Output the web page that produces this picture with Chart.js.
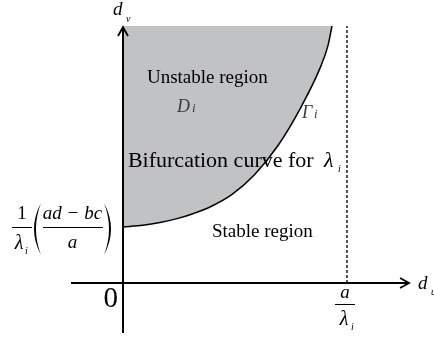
<!DOCTYPE html>
<html><head><meta charset="utf-8">
<script src="https://cdn.jsdelivr.net/npm/chart.js@4.4.1/dist/chart.umd.min.js"></script>
<style>html,body{margin:0;padding:0;background:#fff}#wrap{width:434px;height:337px;position:relative}</style>
</head><body><div id="wrap"><canvas id="c"></canvas></div>
<script>
// Bifurcation curve Γi : d_u in units of a/λi, d_v in units of the intercept (1/λi)((ad-bc)/a)
const curveDu = [0, 0.089, 0.165, 0.241, 0.3125, 0.388, 0.487, 0.589, 0.692, 0.799, 0.879, 0.915, 0.933];
const curveDv = [1.0, 1.030, 1.079, 1.150, 1.238, 1.357, 1.582, 1.943, 2.455, 3.173, 3.832, 4.239, 4.589];
const asymptoteDu = 1;      // a/λi
const interceptDv = 1;      // (1/λi)((ad-bc)/a)
const topDv = 4.589;        // upper edge of the shaded region
const xAxisSpan = [-0.232, 1.277];
const yAxisSpan = [-0.893, 4.571];
const regionLabels = ['Unstable region', 'Stable region'];
const curveLabel = 'Bifurcation curve for';
const originLabel = '0';
const axisNames = ['d', 'd'];   // d_u (horizontal), d_v (vertical)

const SERIF = '"Liberation Serif", "DejaVu Serif", serif';

const curveData = curveDu.map((x, i) => ({x, y: curveDv[i]}));

const annot = {
  id: 'annot',
  afterDatasetsDraw(chart) {
    const ctx = chart.ctx;
    const xs = chart.scales.x, ys = chart.scales.y;
    const X = v => xs.getPixelForValue(v), Y = v => ys.getPixelForValue(v);
    const x0 = X(0), y0 = Y(0);
    ctx.save();
    ctx.strokeStyle = '#000'; ctx.fillStyle = '#000';
    ctx.lineWidth = 1.8; ctx.lineJoin = 'miter';
    // arrowheads
    const yt = Y(yAxisSpan[1]);
    ctx.beginPath(); ctx.moveTo(x0 - 5, yt + 9); ctx.lineTo(x0, yt); ctx.lineTo(x0 + 5, yt + 9); ctx.stroke();
    const xt = X(xAxisSpan[1]);
    ctx.beginPath(); ctx.moveTo(xt - 9, y0 - 5); ctx.lineTo(xt, y0); ctx.lineTo(xt - 9, y0 + 5); ctx.stroke();

    const txt = (s, x, y, font, align, color) => {
      ctx.font = font; ctx.textAlign = align || 'left'; ctx.textBaseline = 'alphabetic';
      ctx.fillStyle = color || '#000'; ctx.fillText(s, x, y);
    };
    // axis names
    txt(axisNames[1], x0 - 10, 15, 'italic 19px ' + SERIF);
    txt('v', x0 + 3, 22, 'italic 10px ' + SERIF);
    txt(axisNames[0], xt + 9, y0 + 6, 'italic 19px ' + SERIF);
    txt('u', xt + 22, y0 + 12, 'italic 10px ' + SERIF);
    // origin
    txt(originLabel, x0 - 5, y0 + 24, '29px ' + SERIF, 'right');
    // a / λi tick
    const xa = X(asymptoteDu) - 2;
    txt('a', xa, y0 + 15, 'italic 19px ' + SERIF, 'center');
    ctx.lineWidth = 1; ctx.beginPath(); ctx.moveTo(xa - 10, y0 + 21.5); ctx.lineTo(xa + 10, y0 + 21.5); ctx.stroke();
    txt('λ', xa - 1, y0 + 42, 'italic 20px ' + SERIF, 'center');
    txt('i', xa + 6, y0 + 47, 'italic 10px ' + SERIF);
    // intercept label
    const yc = Y(interceptDv);
    txt('1', 22, yc - 8, '19px ' + SERIF, 'center');
    ctx.lineWidth = 1; ctx.beginPath(); ctx.moveTo(12, yc + 0.5); ctx.lineTo(32, yc + 0.5); ctx.stroke();
    txt('λ', 19, yc + 22, 'italic 20px ' + SERIF, 'center');
    txt('i', 25, yc + 27, 'italic 10px ' + SERIF);
    // parentheses
    const paren = (xe, xm, dir) => {
      ctx.beginPath();
      ctx.moveTo(xe, yc - 24);
      ctx.quadraticCurveTo(xm, yc + 2, xe, yc + 28);
      ctx.quadraticCurveTo(xm + dir * 4, yc + 2, xe, yc - 24);
      ctx.fill();
    };
    paren(41, 27, 1);
    paren(104, 118, -1);
    txt('ad − bc', 72.5, yc - 8, 'italic 19px ' + SERIF, 'center');
    ctx.lineWidth = 1; ctx.beginPath(); ctx.moveTo(43, yc + 0.5); ctx.lineTo(103, yc + 0.5); ctx.stroke();
    txt('a', 72.5, yc + 21, 'italic 19px ' + SERIF, 'center');
    // region labels
    txt(regionLabels[0], X(0.107), Y(3.571), '19px ' + SERIF);
    txt('D', X(0.241), Y(3.054), 'italic 18px ' + SERIF, 'left', '#3a3a3a');
    txt('i', X(0.241) + 15, Y(3.054), 'italic 13px ' + SERIF, 'left', '#3a3a3a');
    txt('Γ', X(0.799), Y(2.946), 'italic 18px ' + SERIF, 'left', '#3a3a3a');
    txt('i', X(0.799) + 12, Y(2.946), 'italic 13px ' + SERIF, 'left', '#3a3a3a');
    txt(curveLabel, X(0.022), Y(2.071), '22px ' + SERIF);
    txt('λ', X(0.897), Y(2.071), 'italic 22px ' + SERIF);
    txt('i', X(0.897) + 14, Y(2.071) + 5, 'italic 10px ' + SERIF);
    txt(regionLabels[1], X(0.397), Y(0.821), '19px ' + SERIF);
    ctx.restore();
  }
};

new Chart(document.getElementById('c'), {
  type: 'scatter',
  data: {
    datasets: [
      { label: 'axes-x', data: [{x: xAxisSpan[0], y: 0}, {x: xAxisSpan[1], y: 0}], showLine: true,
        borderColor: '#000', borderWidth: 2, pointRadius: 0, order: 0 },
      { label: 'axes-y', data: [{x: 0, y: yAxisSpan[0]}, {x: 0, y: yAxisSpan[1]}], showLine: true,
        borderColor: '#000', borderWidth: 2, pointRadius: 0, order: 0 },
      { label: 'asymptote', data: [{x: asymptoteDu, y: 0}, {x: asymptoteDu, y: topDv}], showLine: true,
        borderColor: '#555', borderWidth: 2, borderDash: [3, 2], pointRadius: 0, order: 1 },
      { label: 'curve', data: curveData, showLine: true, borderColor: '#000', borderWidth: 1.5,
        cubicInterpolationMode: 'monotone', pointRadius: 0,
        fill: {value: topDv}, backgroundColor: '#c1c2c4', order: 2 }
    ]
  },
  options: {
    responsive: true, maintainAspectRatio: false, animation: false,
    layout: {padding: 0},
    plugins: {legend: {display: false}, tooltip: {enabled: false}},
    scales: {
      x: {type: 'linear', display: false, min: -0.5491, max: 1.3884},
      y: {type: 'linear', display: false, min: -0.9643, max: 5.0536}
    }
  },
  plugins: [annot]
});
</script>
</body></html>
